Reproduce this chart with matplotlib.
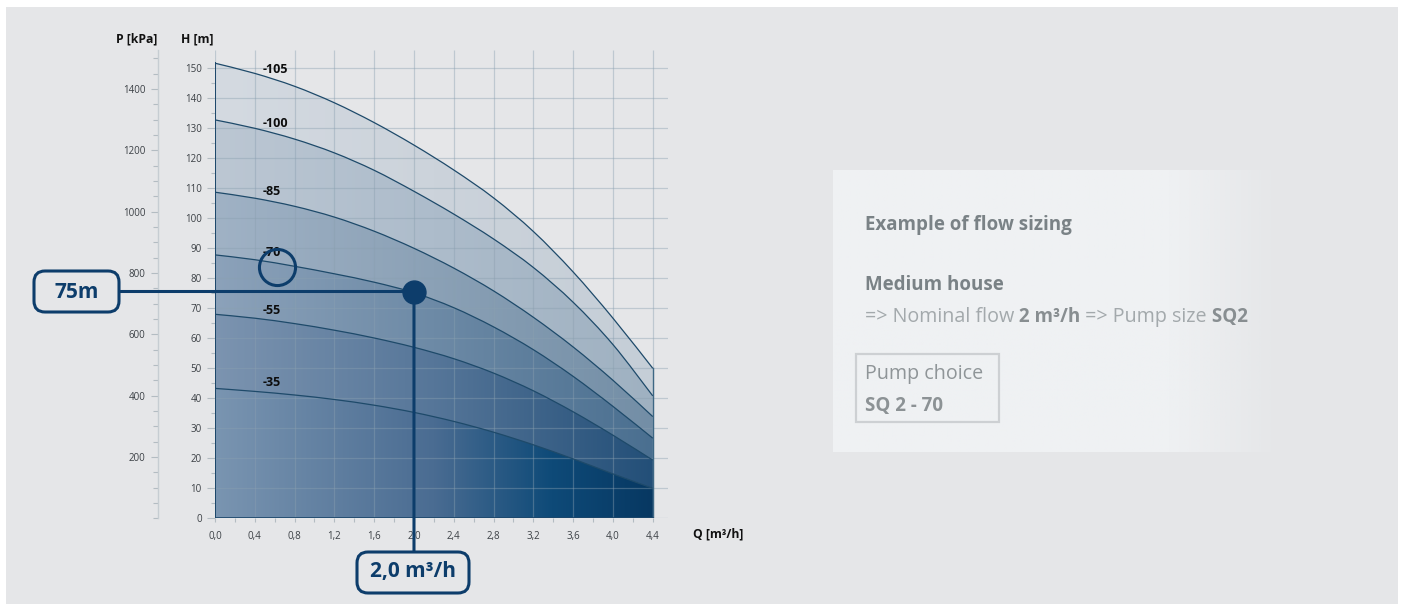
import numpy as np
import matplotlib
matplotlib.use("Agg")
import matplotlib.pyplot as plt
from matplotlib.patches import FancyBboxPatch, Rectangle, ConnectionPatch, PathPatch
from matplotlib.path import Path
from matplotlib.colors import to_rgb
import matplotlib.transforms as mtransforms

# ---------------- data ----------------
Q = [0.0, 0.4, 0.8, 1.2, 1.6, 2.0, 2.4, 2.8, 3.2, 3.6, 4.0, 4.4]
curve_labels = ["-105", "-100", "-85", "-70", "-55", "-35"]
H_105 = [151.7, 148.3, 144.0, 138.5, 131.9, 124.4, 116.1, 106.8, 95.6, 82.1, 66.7, 50.0]
H_100 = [132.8, 130.0, 126.4, 121.8, 116.0, 109.0, 101.4, 93.1, 83.6, 72.0, 57.9, 40.8]
H_85 = [108.7, 106.7, 104.0, 100.4, 95.7, 90.0, 83.4, 75.8, 67.0, 57.1, 46.0, 33.9]
H_70 = [87.8, 86.2, 84.0, 81.5, 78.7, 75.2, 70.2, 63.8, 56.2, 47.3, 37.3, 26.7]
H_55 = [68.0, 66.7, 64.9, 62.7, 60.1, 57.0, 53.2, 48.4, 42.5, 35.5, 27.7, 19.4]
H_35 = [43.3, 42.3, 41.1, 39.6, 37.7, 35.3, 32.3, 28.7, 24.5, 19.8, 14.8, 10.0]
curves = [H_105, H_100, H_85, H_70, H_55, H_35]

q_ticks = [0.0, 0.4, 0.8, 1.2, 1.6, 2.0, 2.4, 2.8, 3.2, 3.6, 4.0, 4.4]
q_tick_labels = ["0,0", "0,4", "0,8", "1,2", "1,6", "2,0", "2,4", "2,8",
                 "3,2", "3,6", "4,0", "4,4"]
h_ticks = [0, 10, 20, 30, 40, 50, 60, 70, 80, 90, 100, 110, 120, 130, 140, 150]
p_ticks = [200, 400, 600, 800, 1000, 1200, 1400]

Q_sel, H_sel = 2.0, 75.6          # selected duty point
Q_ring, H_ring = 0.626, 83.7      # highlight ring near "-70"
KPA_PER_M = 9.78

# band colours (band 1 = top band ... band 6 = bottom), stops along Q fraction
band_stops = [
    ([0.0, 0.5, 1.0], ["#d4dae1", "#ccd3db", "#c5ced7"]),
    ([0.0, 0.5, 1.0], ["#bcc7d3", "#adbccb", "#9fb1c1"]),
    ([0.0, 0.5, 1.0], ["#a0b2c5", "#8ba1b6", "#738ea6"]),
    ([0.0, 0.5, 1.0], ["#8ca2ba", "#6d8aa6", "#4a6f90"]),
    ([0.0, 0.5, 1.0], ["#7c94b0", "#567699", "#234f78"]),
    ([0.0, 0.5, 0.77, 1.0], ["#7a95b1", "#4a6c92", "#0e4a78", "#073862"]),
]

NAVY = "#0d3d6b"
plt.rcParams['font.family'] = ['Open Sans', 'DejaVu Sans']


def smooth_curve(x, y):
    """Bezier (Catmull-Rom style) path through the given points."""
    x = np.asarray(x, float)
    y = np.asarray(y, float)
    n = len(x)
    verts = [(x[0], y[0])]
    codes = [Path.MOVETO]
    for i in range(n - 1):
        i0 = max(i - 1, 0)
        i3 = min(i + 2, n - 1)
        c1 = (x[i] + (x[i + 1] - x[i0]) / 6, y[i] + (y[i + 1] - y[i0]) / 6)
        c2 = (x[i + 1] - (x[i3] - x[i]) / 6, y[i + 1] - (y[i3] - y[i]) / 6)
        verts += [c1, c2, (x[i + 1], y[i + 1])]
        codes += [Path.CURVE4] * 3
    return verts, codes


fig = plt.figure(figsize=(14.04, 6.04), dpi=100)
fig.patch.set_facecolor("white")

# ---------------- background / overlay axes (pixel coords) ----------------
bg = fig.add_axes([0, 0, 1, 1], zorder=0)
bg.axis("off")
bg.add_patch(Rectangle((6, 7), 1392, 597, fc="#e5e6e8", ec="none"))

nxg = 400
xs = np.linspace(0, 1, nxg)
alpha = np.clip((1.0 - xs) / 0.25, 0, 1)
box_rgba = np.zeros((1, nxg, 4))
box_rgba[..., :3] = to_rgb("#eff1f3")
box_rgba[0, :, 3] = alpha
bg.imshow(box_rgba, extent=(833, 1282, 452, 170), aspect="auto", interpolation="bilinear", zorder=1)
bg.set_xlim(0, 1404)
bg.set_ylim(604, 0)

# ---------------- main chart axes ----------------
ax = fig.add_axes([215 / 1404, (604 - 518.3) / 604, 452.7 / 1404, 468 / 604], zorder=2)
ax.set_facecolor("none")
ax.set_xlim(0, 4.55)
ax.set_ylim(0, 156)

# gradient-filled bands: each region under a curve, drawn top to bottom
nx = 600
t = np.linspace(0, 1, nx)
for (ts, cols), c in zip(band_stops, curves):
    rgb = np.array([to_rgb(cc) for cc in cols])
    row = np.stack([np.interp(t, ts, rgb[:, i]) for i in range(3)], axis=1)[None, :, :]
    verts, codes = smooth_curve(Q, c)
    verts = verts + [(Q[-1], 0), (Q[0], 0), (Q[0], c[0])]
    codes = codes + [Path.LINETO, Path.LINETO, Path.CLOSEPOLY]
    region = PathPatch(Path(verts, codes), transform=ax.transData)
    im = ax.imshow(row, extent=(Q[0], Q[-1], 0, 153), origin="lower", aspect="auto",
                   interpolation="bilinear", zorder=1)
    im.set_clip_path(region)

# grid
grid_kw = dict(color="#8aa0b0", alpha=0.42, lw=0.9, zorder=2)
ax.vlines(q_ticks, 0, 156, **grid_kw)
ax.hlines(h_ticks, 0, 4.55, **grid_kw)

# curves
for c in curves:
    verts, codes = smooth_curve(Q, c)
    ax.add_patch(PathPatch(Path(verts, codes), fill=False, ec="#1e4a6a", lw=0.9, zorder=3))
ax.plot([Q[0], Q[0]], [0, H_105[0]], color="#1b466a", lw=1.4, zorder=3)
ax.plot([Q[-1], Q[-1]], [0, H_105[-1]], color="#3d6784", lw=1.0, zorder=3)
ax.plot([Q[0], Q[-1]], [0, 0], color="#1b466a", lw=1.2, zorder=3)

# curve labels
Q_lab = 0.48
for lab, c in zip(curve_labels, curves):
    ax.annotate(lab, xy=(Q_lab, np.interp(Q_lab + 0.12, Q, c)), xytext=(0, 7.5),
                textcoords="offset points", ha="left", va="center",
                fontsize=9, fontweight="bold", color="#0d0d0d", zorder=5)

# ticks
for s in ax.spines.values():
    s.set_visible(False)
ax.set_xticks(q_ticks)
ax.set_xticklabels(q_tick_labels)
ax.set_xticks(np.arange(0.2, 4.4, 0.4), minor=True)
ax.set_yticks(h_ticks)
ax.set_yticklabels([str(h) for h in h_ticks])
ax.set_yticks(np.arange(5, 150, 10), minor=True)
ax.tick_params(axis="x", which="both", direction="out", length=3, width=0.8,
               color="#b3bcc2", labelsize=7, labelcolor="#3b4045", pad=6)
ax.tick_params(axis="y", which="major", direction="out", length=5.5, width=0.8,
               color="#b3bcc2", labelsize=7, labelcolor="#3b4045", pad=4)
ax.tick_params(axis="y", which="minor", direction="out", length=3, width=0.8,
               color="#b3bcc2")

# ---------------- pressure axis ----------------
axp = fig.add_axes([158 / 1404, (604 - 518.3) / 604, 0.5 / 1404, 468 / 604], zorder=2)
axp.set_facecolor("none")
axp.set_ylim(0, 156 * KPA_PER_M)
for name, s in axp.spines.items():
    s.set_visible(name == "left")
axp.spines["left"].set_color("#c6cdd2")
axp.spines["left"].set_linewidth(1.0)
axp.set_xticks([])
axp.set_yticks(p_ticks)
axp.set_yticklabels([str(p) for p in p_ticks])
axp.set_yticks(np.arange(0, 1501, 50), minor=True)
axp.tick_params(axis="y", which="major", direction="out", length=5, width=0.8,
                color="#b3bcc2", labelsize=7, labelcolor="#3b4045", pad=4)
axp.tick_params(axis="y", which="minor", direction="out", length=3.5, width=0.8,
                color="#b3bcc2")

# axis titles
bg.text(137, 39, "P [kPa]", ha="center", va="center", fontsize=8.7, fontweight="bold", color="#111111")
bg.text(197, 39, "H [m]", ha="center", va="center", fontsize=8.7, fontweight="bold", color="#111111")
bg.text(718, 534, "Q [m³/h]", ha="center", va="center", fontsize=8.7, fontweight="bold", color="#111111")

# ---------------- duty point callouts ----------------
ax.plot(Q_sel, H_sel, "o", ms=16.5, color=NAVY, zorder=7, clip_on=False)
ax.plot(Q_ring, H_ring, "o", ms=26, mfc="none", mec=NAVY, mew=2.2, zorder=7)

bg.add_patch(FancyBboxPatch((34, 271), 85, 41, boxstyle="round,pad=0,rounding_size=11",
                            fc="none", ec=NAVY, lw=2.2, zorder=3))
bg.text(76.5, 292, "75m", ha="center", va="center", fontsize=15, fontweight="bold", color=NAVY, zorder=4)

bg.add_patch(FancyBboxPatch((357, 552), 112, 41, boxstyle="round,pad=0,rounding_size=11",
                            fc="none", ec=NAVY, lw=2.2, zorder=3))
bg.text(413, 572, "2,0 m³/h", ha="center", va="center", fontsize=15, fontweight="bold", color=NAVY, zorder=4)

trA = mtransforms.blended_transform_factory(bg.transData, ax.transData)
fig.add_artist(ConnectionPatch(xyA=(120.5, H_sel), coordsA=trA, xyB=(Q_sel, H_sel),
                               coordsB=ax.transData, color=NAVY, lw=2.2, zorder=6))
trB = mtransforms.blended_transform_factory(ax.transData, bg.transData)
fig.add_artist(ConnectionPatch(xyA=(Q_sel, 551), coordsA=trB, xyB=(Q_sel, H_sel),
                               coordsB=ax.transData, color=NAVY, lw=2.2, zorder=6))

# ---------------- info text ----------------
TXT_B = "#7a8286"
TXT_L = "#a3a9ac"
TXT_LB = "#888e91"
FS = 13.5
FS_R = 14.2
bg.text(865, 230, "Example of flow sizing", fontsize=FS, fontweight="bold", color=TXT_B, va="baseline")
bg.text(865, 290, "Medium house", fontsize=FS, fontweight="bold", color=TXT_B, va="baseline")
t1 = bg.text(865, 321.7, "=> Nominal flow", fontsize=FS_R, color=TXT_L, va="baseline")
t2 = bg.annotate(" 2 m³/h", xy=(1, 0), xycoords=t1, fontsize=FS, fontweight="bold", color=TXT_LB, va="bottom", ha="left")
t3 = bg.annotate(" => Pump size", xy=(1, 0), xycoords=t2, fontsize=FS_R, color=TXT_L, va="bottom", ha="left")
bg.annotate(" SQ2", xy=(1, 0), xycoords=t3, fontsize=FS, fontweight="bold", color=TXT_LB, va="bottom", ha="left")

bg.add_patch(Rectangle((855.5, 353.5), 143, 68, fc="none", ec="#cdd0d3", lw=1.6, zorder=2))
bg.text(865, 379, "Pump choice", fontsize=FS_R, color="#8f9598", va="baseline")
bg.text(865, 410.7, "SQ 2 - 70", fontsize=FS, fontweight="bold", color="#8c9295", va="baseline")

fig.savefig("out.png", dpi=100, facecolor=fig.get_facecolor())
